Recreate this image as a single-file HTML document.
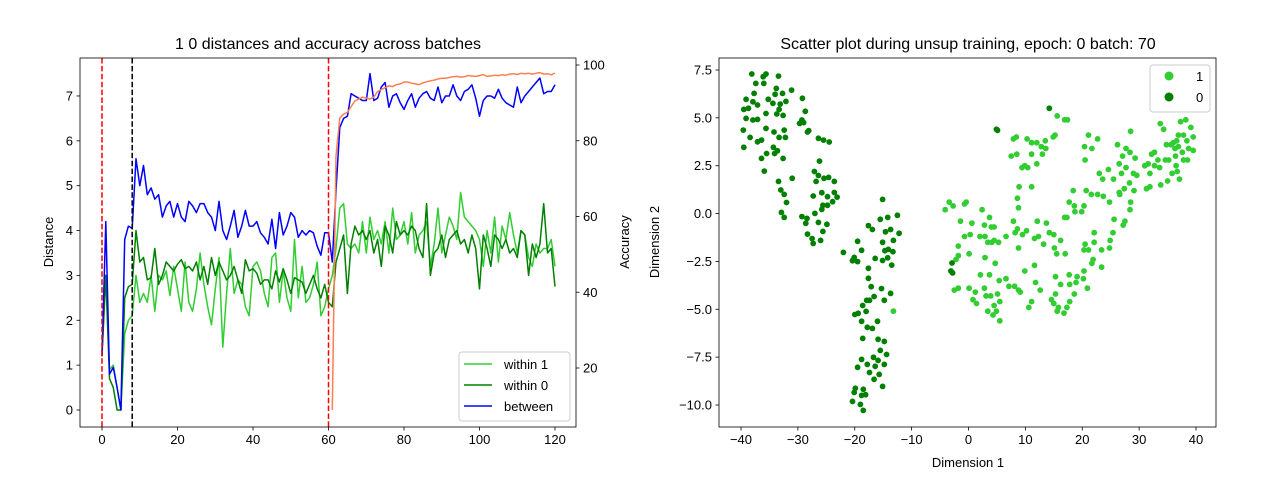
<!DOCTYPE html>
<html><head><meta charset="utf-8"><style>
body{margin:0;background:#fff;}
svg{display:block;font-family:"Liberation Sans","DejaVu Sans",sans-serif;}
</style></head><body>
<svg id="fig" width="1280" height="480" viewBox="0 0 1280 480" xmlns="http://www.w3.org/2000/svg">
<rect width="1280" height="480" fill="#fff"/>
<text x="328" y="49" font-size="16" text-anchor="middle">1 0 distances and accuracy across batches</text>
<text x="968" y="49" font-size="16" text-anchor="middle">Scatter plot during unsup training, epoch: 0 batch: 70</text>
<text transform="translate(53,242) rotate(-90)" font-size="13" text-anchor="middle">Distance</text>
<text transform="translate(629,242) rotate(-90)" font-size="13" text-anchor="middle">Accuracy</text>
<text transform="translate(659,242) rotate(-90)" font-size="13" text-anchor="middle">Dimension 2</text>
<text x="968" y="467" font-size="13" text-anchor="middle">Dimension 1</text>
<g id="left"></g><g id="right"></g>
</svg>
<script>
const between=[1.2,4.2,0.8,0.95,0.5,0.0,3.8,4.1,4.05,5.6,5.0,5.45,4.8,4.95,4.7,4.8,4.3,4.55,4.65,4.3,4.6,4.3,4.2,4.65,4.55,4.4,4.6,4.6,4.4,4.3,4.0,4.65,4.0,3.8,4.1,4.45,3.85,4.1,4.45,4.1,4.1,4.2,3.95,3.85,3.7,4.25,3.6,4.4,3.9,4.1,4.4,4.3,3.85,4.0,3.9,4.0,3.95,3.65,3.45,3.95,3.95,3.3,4.9,6.3,6.5,6.55,7.05,7.0,6.95,6.9,6.9,7.5,6.9,6.95,7.2,7.3,6.75,7.0,7.05,6.85,6.7,6.9,7.05,6.75,6.95,7.05,7.1,6.95,6.9,7.2,6.85,7.0,7.0,7.25,7.0,6.9,7.1,7.15,7.25,6.95,6.55,6.9,7.0,7.0,6.95,7.15,6.95,6.85,6.8,6.75,7.2,6.85,7.0,7.1,7.2,7.3,7.4,7.05,7.1,7.1,7.25];
const within1=[1.3,3.0,0.9,1.0,0.5,0.0,1.7,2.0,2.1,3.0,2.4,2.6,2.4,3.0,2.2,3.0,2.9,3.1,2.55,3.2,2.7,2.2,3.3,2.4,2.2,2.7,3.5,2.8,2.3,1.9,2.7,3.4,1.4,2.6,3.6,2.6,2.9,2.8,2.3,2.1,3.2,3.3,3.1,2.6,2.3,3.4,3.5,2.4,3.1,2.5,2.2,3.8,2.5,3.2,2.4,2.5,2.8,3.3,2.1,2.3,2.7,3.0,3.6,4.5,4.6,3.7,3.6,3.7,3.5,4.2,3.5,4.3,3.8,4.0,3.7,4.2,3.5,4.5,3.8,3.9,4.2,3.7,4.4,3.5,3.9,4.0,4.2,3.2,3.7,4.5,3.5,3.9,4.3,4.1,3.8,4.85,4.3,4.2,4.1,4.0,3.8,3.2,4.0,3.5,4.3,3.3,4.1,3.8,4.4,3.9,3.5,4.0,3.9,3.4,3.2,3.7,3.5,3.6,3.6,3.8,3.2];
const within0=[1.2,3.0,0.7,0.5,0.0,0.0,2.5,2.75,2.8,4.0,3.3,3.4,2.9,2.95,3.6,2.8,3.0,3.3,3.2,3.1,3.25,3.35,3.15,3.2,3.1,3.3,2.9,3.2,2.8,3.4,3.0,3.3,3.1,2.9,3.0,3.2,2.9,2.6,3.35,3.1,3.15,3.05,2.8,2.9,2.9,2.7,3.1,2.85,3.15,2.9,2.6,2.95,2.9,2.85,2.6,2.8,3.0,2.7,2.5,2.8,2.4,2.3,3.3,3.6,3.9,2.6,3.7,4.1,3.9,4.0,3.8,4.0,3.5,3.8,3.2,4.1,3.9,3.5,4.2,3.9,4.0,3.9,4.1,4.0,3.6,3.4,4.6,3.0,3.5,3.6,3.9,3.4,3.8,3.9,4.0,3.7,3.8,3.5,3.9,3.6,2.7,3.9,3.6,3.2,3.9,3.8,3.6,3.8,3.5,3.6,3.4,4.0,3.9,3.0,3.7,3.4,3.7,4.6,3.5,3.6,2.75];
const accStart=61;
const accuracy=[9,76,86,87,87.5,89,90.5,91,91.5,91.3,91,91.5,93,93.5,94,94.5,94.3,94.8,95,95.5,95.5,95.2,95,94.8,95.3,95.6,95.8,96,96.3,96.5,96.5,96.7,96.9,97,96.8,96.9,97.2,97.1,97,97.2,97.5,97,97.1,97.3,97.2,97.4,97.3,97.6,97.7,97.5,97.8,97.7,97.8,97.6,97.8,98,97.6,97.7,97.4,97.9];
const vlinesRed=[0,60];
const vlinesBlack=[8];
const leftXTicks=[0,20,40,60,80,100,120];
const distTicks=[0,1,2,3,4,5,6,7];
const accTicks=[20,40,60,80,100];
const scatterXTicks=[-40,-30,-20,-10,0,10,20,30,40];
const scatterYTicks=[-10,-7.5,-5,-2.5,0,2.5,5,7.5];
const cluster0=[[-38.1,7.29],[-36.1,7.15],[-35.6,7.29],[-33.4,7.18],[-37.4,6.8],[-36.0,6.8],[-33.8,6.54],[-31.1,6.45],[-37.7,6.28],[-34.0,6.23],[-32.7,6.28],[-39.1,5.97],[-37.9,5.84],[-35.2,5.97],[-34.4,5.76],[-33.1,5.72],[-32.1,5.86],[-29.2,6.02],[-37.1,5.67],[-39.5,5.44],[-38.7,5.5],[-33.3,5.44],[-35.6,5.23],[-33.7,5.2],[-32.6,5.13],[-28.7,5.34],[-39.1,4.97],[-37.9,4.89],[-37.1,4.92],[-29.3,4.89],[-29.7,4.71],[-29.0,4.75],[-39.6,4.36],[-35.6,4.45],[-34.2,4.26],[-32.4,4.36],[-28.1,4.33],[-28.3,4.26],[-38.4,3.98],[-37.1,3.75],[-36.4,3.84],[-33.3,3.98],[-32.2,3.98],[-26.4,3.93],[-25.5,3.84],[-24.5,3.74],[-39.5,3.46],[-34.3,3.46],[-33.6,3.28],[-35.5,3.14],[-34.1,3.14],[-36.4,2.88],[-32.6,2.88],[-35.9,2.22],[-26.2,2.74],[-27.1,2.2],[-26.4,1.99],[-25.4,1.84],[-24.6,1.89],[-23.6,1.68],[-33.4,1.68],[-31.0,1.84],[-26.8,1.68],[-33.0,1.23],[-32.4,1.0],[-25.8,1.09],[-27.3,0.92],[-24.8,0.88],[-23.6,1.1],[-23.1,0.86],[-32.0,0.58],[-23.9,0.62],[-25.6,0.43],[-24.8,0.43],[-25.8,0.22],[-27.0,0.01],[-32.9,0.06],[-32.4,-0.2],[-29.3,-0.16],[-28.4,-0.25],[-28.6,-0.51],[-26.4,-0.46],[-24.9,-0.56],[-25.6,-0.93],[-28.3,-1.07],[-27.5,-1.31],[-26.0,-1.4],[-27.3,-1.56],[-15.1,0.74],[-17.6,-0.63],[-16.9,-0.83],[-15.5,-0.3],[-14.2,-0.2],[-12.5,-0.09],[-14.6,-0.95],[-13.7,-0.83],[-12.2,-1.03],[-19.5,-1.45],[-15.1,-1.5],[-13.2,-1.4],[-22.0,-2.03],[-18.8,-1.92],[-20.1,-2.29],[-20.4,-2.46],[-19.5,-2.51],[-16.4,-2.34],[-14.7,-1.94],[-14.1,-1.87],[-13.3,-1.99],[-14.2,-2.31],[-15.1,-2.45],[-17.6,-2.86],[-13.5,-2.69],[-17.6,-3.38],[-17.1,-3.82],[-15.3,-3.92],[-13.7,-4.17],[-16.6,-4.33],[-17.9,-4.53],[-17.4,-4.53],[-14.8,-4.53],[-18.6,-4.8],[-18.0,-5.11],[-19.4,-5.21],[-20.0,-5.27],[-18.8,-5.63],[-16.0,-5.63],[-17.8,-5.94],[-16.9,-6.0],[-18.6,-6.52],[-15.9,-6.57],[-14.8,-6.68],[-15.5,-7.15],[-14.4,-7.36],[-18.8,-7.62],[-16.7,-7.51],[-15.9,-7.67],[-19.5,-8.03],[-17.8,-7.88],[-14.8,-7.88],[-16.4,-7.98],[-17.4,-8.3],[-15.7,-8.4],[-16.6,-8.66],[-15.1,-9.03],[-19.9,-9.13],[-20.1,-9.34],[-18.5,-9.18],[-18.8,-9.5],[-18.1,-9.46],[-20.4,-9.81],[-19.0,-9.97],[-18.5,-10.28],[14.2,5.5],[5.1,4.35],[4.9,4.4],[-2.9,-2.58],[-3.1,-3.0],[-2.8,-3.1]];
const cluster1=[[15.6,5.1],[16.9,4.9],[17.4,4.9],[7.9,3.9],[8.4,4.0],[10.3,3.9],[11.1,3.7],[12.0,3.7],[12.8,3.5],[13.5,3.8],[13.6,3.4],[14.9,4.0],[15.2,4.1],[7.5,3.0],[8.5,3.1],[11.1,3.1],[13.0,3.1],[9.4,2.4],[9.9,2.5],[10.4,2.4],[12.0,2.6],[8.9,1.4],[11.1,1.4],[8.6,0.8],[8.8,0.3],[-3.4,0.6],[-2.7,0.4],[-4.1,0.2],[-0.7,0.5],[-0.4,0.6],[2.4,0.2],[-1.4,-0.4],[0.6,-0.5],[2.8,-0.6],[3.7,-0.2],[4.0,-0.7],[4.5,-0.7],[7.9,-0.4],[12.1,-0.4],[13.7,-0.5],[8.6,-0.8],[10.2,-0.9],[-0.7,-1.2],[0.3,-1.1],[2.0,-1.2],[2.9,-1.2],[3.4,-1.5],[4.1,-1.5],[4.5,-1.4],[5.3,-1.5],[6.6,-1.2],[8.2,-1.0],[9.5,-1.1],[11.6,-1.3],[12.3,-1.2],[14.2,-1.0],[15.0,-1.1],[13.2,-1.6],[16.2,-1.4],[-1.8,-1.7],[0.1,-2.1],[8.8,-1.8],[15.1,-1.8],[15.5,-2.1],[17.0,-2.1],[-1.8,-2.2],[-2.2,-2.4],[2.9,-2.3],[4.7,-2.6],[9.9,-3.0],[11.6,-2.7],[2.1,-3.2],[3.7,-3.2],[6.6,-3.4],[5.4,-3.5],[7.1,-3.8],[8.1,-3.8],[8.8,-4.0],[9.1,-4.1],[11.8,-3.6],[12.6,-4.0],[15.3,-3.3],[17.7,-3.2],[19.1,-3.3],[20.2,-3.4],[20.3,-3.0],[17.8,-3.7],[18.9,-3.6],[20.9,-3.9],[16.2,-3.7],[-2.5,-4.0],[-1.8,-3.9],[0.1,-3.9],[1.2,-4.1],[2.8,-3.9],[0.8,-4.5],[1.4,-4.7],[3.1,-4.3],[3.9,-4.3],[5.1,-4.2],[5.5,-4.6],[4.5,-4.8],[3.4,-5.1],[4.3,-5.3],[5.5,-5.6],[4.9,-5.1],[10.6,-4.9],[11.1,-4.6],[14.6,-4.5],[15.3,-4.2],[15.0,-4.7],[15.8,-4.9],[15.6,-5.1],[16.8,-5.2],[17.3,-4.9],[17.8,-4.6],[18.6,-4.2],[21.1,4.1],[22.7,3.9],[20.4,3.5],[21.7,3.4],[20.5,2.8],[18.4,1.2],[20.7,1.2],[21.6,1.0],[22.7,1.0],[23.7,0.9],[24.8,0.6],[17.7,0.6],[18.6,0.4],[20.3,0.4],[18.7,0.1],[19.9,0.1],[17.3,-0.2],[16.9,-0.2],[25.6,-0.3],[27.5,-0.4],[27.2,-0.6],[22.1,-1.0],[25.4,-1.0],[20.5,-1.6],[22.1,-1.5],[24.9,-1.4],[20.3,-1.9],[21.1,-1.9],[24.8,-1.8],[23.4,-1.9],[21.9,-2.4],[21.7,-2.6],[23.4,-2.8],[23.0,2.1],[23.6,1.8],[24.6,2.3],[25.5,1.8],[26.5,2.6],[26.9,2.1],[27.7,2.4],[28.3,1.6],[29.0,2.1],[29.6,2.0],[27.4,1.3],[26.5,1.1],[26.6,1.0],[29.1,1.2],[28.5,0.6],[28.4,0.2],[31.3,1.3],[31.9,1.4],[26.2,3.6],[27.1,3.0],[27.7,3.4],[28.4,3.2],[29.3,2.9],[28.5,4.3],[33.8,1.5],[35.0,1.7],[35.8,2.1],[37.1,1.8],[31.0,2.5],[31.6,2.6],[31.9,2.1],[32.7,2.5],[33.6,2.4],[32.2,3.1],[32.7,3.2],[33.3,2.8],[34.6,2.8],[35.2,2.8],[35.6,3.6],[36.4,3.0],[36.5,2.5],[36.7,2.2],[36.0,3.7],[36.3,3.4],[33.7,4.7],[34.3,4.4],[36.9,4.1],[37.3,4.8],[38.2,4.9],[39.1,4.5],[39.5,4.0],[37.8,4.1],[38.4,3.8],[38.7,3.4],[39.5,3.3],[37.6,3.2],[36.9,3.5],[37.8,2.8],[38.5,2.8],[36.6,3.8],[34.8,3.6],[-13.2,-5.1]];

const NS="http://www.w3.org/2000/svg";
function mk(parent,tag,attrs){const e=document.createElementNS(NS,tag);for(const k in attrs)e.setAttribute(k,attrs[k]);parent.appendChild(e);return e;}
const fmtMinus=v=>String(v).replace('-','\u2212');

// LEFT
const L={x0:80,x1:576,y0:58,y1:427};
const lx=v=>102+v*(453/120);
const ly=v=>410-v*44.86;
const ay=v=>368-(v-20)*(303/80);
const gl=document.getElementById('left');
const clipL=mk(gl,'clipPath',{id:'clipL'});mk(clipL,'rect',{x:L.x0,y:L.y0,width:L.x1-L.x0,height:L.y1-L.y0});
const lines=mk(gl,'g',{'clip-path':'url(#clipL)'});
function series(vals,start,fy,color,name){
  const p=vals.map((v,i)=>lx(start+i).toFixed(1)+','+fy(v).toFixed(1)).join(' ');
  const el=mk(lines,'polyline',{points:p,fill:'none',stroke:color,'stroke-width':1.5,'stroke-linejoin':'round'});
  
  
}
series(within1,0,ly,'#32cd32','line-within-1');
series(within0,0,ly,'#008000','line-within-0');
series(between,0,ly,'#0000ff','line-between');
vlinesRed.forEach(v=>{const e=mk(lines,'line',{x1:lx(v),x2:lx(v),y1:L.y0,y2:L.y1,stroke:'#ff0000','stroke-width':1.5,'stroke-dasharray':'5.5,2.4'});
  
  });
vlinesBlack.forEach(v=>{const e=mk(lines,'line',{x1:lx(v),x2:lx(v),y1:L.y0,y2:L.y1,stroke:'#000','stroke-width':1.5,'stroke-dasharray':'5.5,2.4'});
  
  });
series(accuracy,accStart,ay,'#ff7f50','line-accuracy');
mk(gl,'rect',{x:L.x0,y:L.y0,width:L.x1-L.x0,height:L.y1-L.y0,fill:'none',stroke:'#000','stroke-width':0.8});
leftXTicks.forEach(v=>{mk(gl,'line',{x1:lx(v),x2:lx(v),y1:L.y1,y2:L.y1+3.5,stroke:'#000','stroke-width':0.8});
  const t=mk(gl,'text',{x:lx(v),y:L.y1+17,'font-size':13,'text-anchor':'middle'});t.textContent=v;
  
  });
distTicks.forEach(v=>{mk(gl,'line',{x1:L.x0-3.5,x2:L.x0,y1:ly(v),y2:ly(v),stroke:'#000','stroke-width':0.8});
  const t=mk(gl,'text',{x:L.x0-7,y:ly(v)+4.5,'font-size':13,'text-anchor':'end'});t.textContent=v;
  
  });
accTicks.forEach(v=>{mk(gl,'line',{x1:L.x1,x2:L.x1+3.5,y1:ay(v),y2:ay(v),stroke:'#000','stroke-width':0.8});
  const t=mk(gl,'text',{x:L.x1+7,y:ay(v)+4.5,'font-size':13,'text-anchor':'start'});t.textContent=v;
  
  });
// left legend
const lg=mk(gl,'g',{});


mk(lg,'rect',{x:459,y:352,width:111,height:69,rx:3,fill:'#fff','fill-opacity':0.8,stroke:'#ccc','stroke-width':1});
[['within 1','#32cd32'],['within 0','#008000'],['between','#0000ff']].forEach((d,i)=>{
  const y=364+i*21;
  mk(lg,'line',{x1:464,x2:492,y1:y,y2:y,stroke:d[1],'stroke-width':1.5});
  const t=mk(lg,'text',{x:504,y:y+5,'font-size':13});t.textContent=d[0];
  
  
});

// RIGHT
const R={x0:719,x1:1216,y0:58,y1:427};
const sx=v=>741+(v+40)*5.6875;
const sy=v=>70-(v-7.5)*(47.857/2.5);
const gr=document.getElementById('right');
cluster1.forEach(p=>{const c=mk(gr,'circle',{cx:sx(p[0]).toFixed(1),cy:sy(p[1]).toFixed(1),r:2.9,fill:'#32cd32'});
  
  });
cluster0.forEach(p=>{const c=mk(gr,'circle',{cx:sx(p[0]).toFixed(1),cy:sy(p[1]).toFixed(1),r:2.9,fill:'#008000'});
  
  });
mk(gr,'rect',{x:R.x0,y:R.y0,width:R.x1-R.x0,height:R.y1-R.y0,fill:'none',stroke:'#000','stroke-width':0.8});
scatterXTicks.forEach(v=>{mk(gr,'line',{x1:sx(v),x2:sx(v),y1:R.y1,y2:R.y1+3.5,stroke:'#000','stroke-width':0.8});
  const t=mk(gr,'text',{x:sx(v),y:R.y1+17,'font-size':13,'text-anchor':'middle'});t.textContent=fmtMinus(v);
  
  });
scatterYTicks.forEach(v=>{mk(gr,'line',{x1:R.x0-3.5,x2:R.x0,y1:sy(v),y2:sy(v),stroke:'#000','stroke-width':0.8});
  const t=mk(gr,'text',{x:R.x0-7,y:sy(v)+4.5,'font-size':13,'text-anchor':'end'});t.textContent=fmtMinus(v.toFixed(1));
  
  });
const rg=mk(gr,'g',{});


mk(rg,'rect',{x:1150,y:65,width:60,height:47,rx:3,fill:'#fff','fill-opacity':0.8,stroke:'#ccc','stroke-width':1});
[['1','#32cd32'],['0','#008000']].forEach((d,i)=>{
  const y=76+i*21;
  mk(rg,'circle',{cx:1169,cy:y,r:4.5,fill:d[1]});
  const t=mk(rg,'text',{x:1196,y:y+5,'font-size':13});t.textContent=d[0];
  
  
});
</script>
</body></html>
